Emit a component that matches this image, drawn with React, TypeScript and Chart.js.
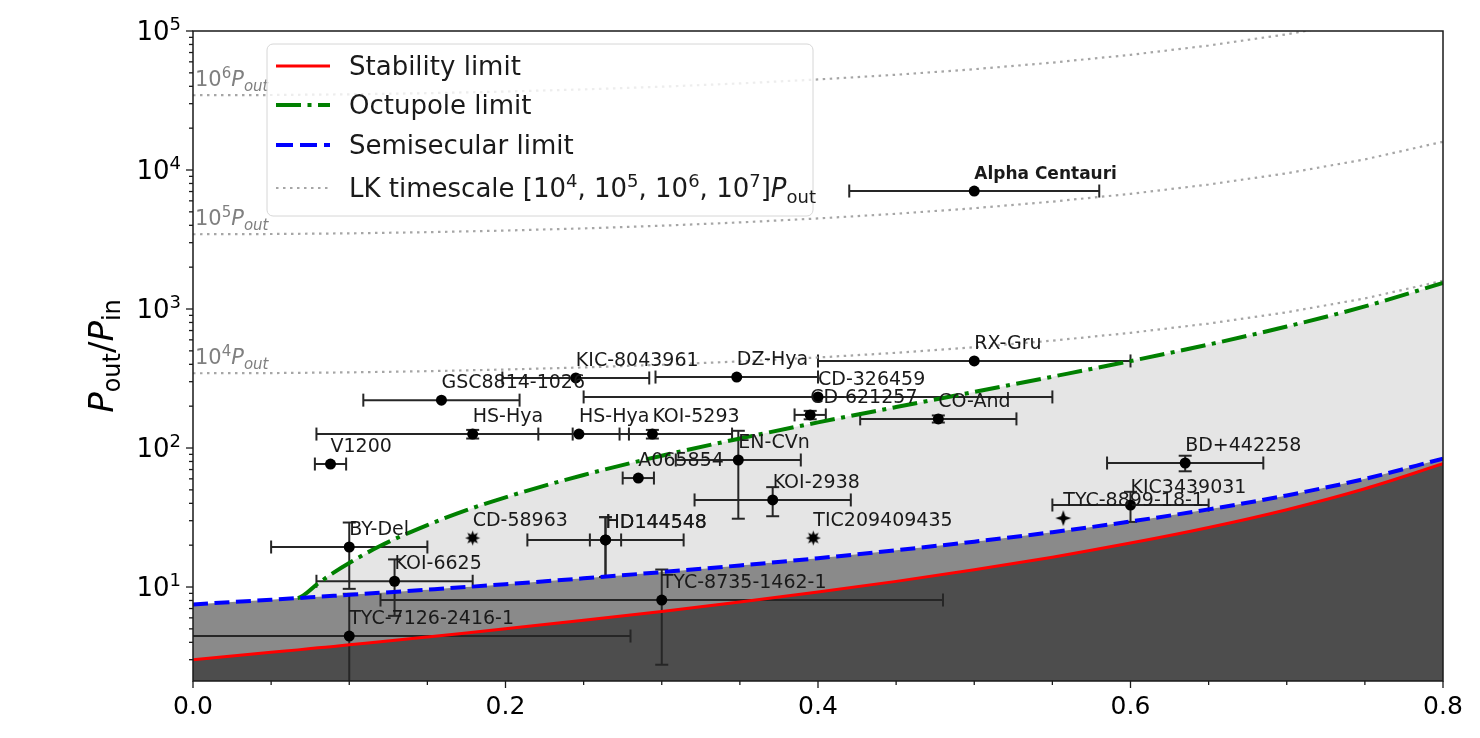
import React, { useEffect, useRef } from 'react';
import { Chart, registerables } from 'chart.js';

Chart.register(...registerables);

const FONT = '"DejaVu Sans", "Liberation Sans", sans-serif';

// ---- theoretical limits ----
const curveX = [0, 0.05, 0.067, 0.08, 0.09, 0.1, 0.12, 0.15, 0.175, 0.2, 0.25, 0.3, 0.35, 0.4, 0.45, 0.5, 0.55, 0.6, 0.65, 0.7, 0.75, 0.8];
const stabilityLimit = [3.0, 3.39, 3.53, 3.65, 3.74, 3.84, 4.04, 4.37, 4.67, 5.0, 5.76, 6.67, 7.8, 9.2, 10.98, 13.3, 16.4, 20.7, 26.8, 36, 50.9, 77];
const semisecularLimit = [7.5, 8.1, 8.32, 8.5, 8.64, 8.78, 9.09, 9.57, 10.0, 10.48, 11.55, 12.8, 14.3, 16.1, 18.4, 21.2, 24.8, 29.6, 36.2, 45.6, 60, 83.9];
const octupoleLimit = [7.5, 8.1, 8.32, 10.6, 12.7, 14.9, 19.8, 27.9, 35.7, 44.2, 64, 88, 117, 153, 197, 253, 326, 422, 555, 748, 1044, 1540];

// ---- LK timescale curves ----
const lkX = [0, 0.05, 0.1, 0.15, 0.2, 0.25, 0.3, 0.35, 0.4, 0.45, 0.5, 0.55, 0.6, 0.65, 0.7, 0.75, 0.8];
const lk1e4 = [345, 346, 350, 357, 367, 380, 397, 420, 448, 484, 531, 592, 674, 786, 947, 1192, 1597];
const lk1e5 = [3450, 3463, 3502, 3570, 3668, 3801, 3974, 4197, 4482, 4844, 5312, 5923, 6738, 7862, 9472, 11921, 15972];
const lk1e6 = [34500, 34630, 35024, 35697, 36680, 38009, 39744, 41969, 44816, 48438, 53116, 59226, 67379, 78615, 94723, 119211, 159722];
const lkLabelY = [400, 4000, 40000];
const lkLabelExp = ['4', '5', '6'];

// ---- observed systems ----
const sysNames = ['Alpha Centauri', 'RX-Gru', 'KIC-8043961', 'DZ-Hya', 'GSC8814-1026', 'CD-326459', 'CD-621257', 'CO-And', 'HS-Hya', 'HS-Hya', 'KOI-5293', 'V1200', 'A065854', 'EN-CVn', 'KOI-2938', 'TIC209409435', 'CD-58963', 'HD144548', 'HD144548', 'BY-Del', 'TYC-7126-2416-1', 'KOI-6625', 'TYC-8735-1462-1', 'BD+442258', 'KIC3439031', 'TYC-8899-18-1'];
const sysX = [0.5, 0.5, 0.245, 0.348, 0.159, 0.4, 0.395, 0.477, 0.179, 0.247, 0.294, 0.088, 0.285, 0.349, 0.371, 0.397, 0.179, 0.264, 0.264, 0.1, 0.1, 0.129, 0.3, 0.635, 0.6, 0.557];
const sysY = [7060, 423, 319, 324, 221, 233, 173, 162, 126, 126, 126, 76.7, 60.8, 82, 42.3, 22.5, 22.5, 21.8, 21.8, 19.4, 4.44, 11.0, 8.06, 78, 38.9, 31.3];
const sysXErr = [0.08, 0.1, 0.047, 0.052, 0.05, 0.15, 0.01, 0.05, 0.1, 0.026, 0.051, 0.01, 0.01, 0.04, 0.05, 0, 0, 0.05, 0.01, 0.05, 0.18, 0.05, 0.18, 0.05, 0.05, 0];
const sysYErr = [0, 0, 0, 0, 0, 0, 12, 9.5, 9, 0, 9, 0, 0, 51, 10, 0, 0, 10, 10, 9.7, 4.5, 4.8, 5.3, 10, 9.5, 0];
const sysMarker = ['o', 'o', 'o', 'o', 'o', 'o', 'o', 'o', 'o', 'o', 'o', 'o', 'o', 'o', 'o', 's8', 's8', 'o', 'o', 'o', 'o', 'o', 'o', 'o', 'o', 's4'];
const sysBold = [true, false, false, false, false, false, false, false, false, false, false, false, false, false, false, false, false, false, false, false, false, false, false, false, false, false];

// ---- axes ----
const xTicks = [0, 0.2, 0.4, 0.6, 0.8];
const xMinorTicks = [0.05, 0.1, 0.15, 0.25, 0.3, 0.35, 0.45, 0.5, 0.55, 0.65, 0.7, 0.75];
const yTicks = [10, 100, 1000, 10000, 100000];
const yTickExp = ['1', '2', '3', '4', '5'];
const yMinorTicks = [3, 4, 5, 6, 7, 8, 9, 20, 30, 40, 50, 60, 70, 80, 90, 200, 300, 400, 500, 600, 700, 800, 900, 2000, 3000, 4000, 5000, 6000, 7000, 8000, 9000, 20000, 30000, 40000, 50000, 60000, 70000, 80000, 90000];

type Run = { t: string; it?: boolean; sub?: boolean; sup?: boolean; bold?: boolean };

function runFont(r: Run, size: number) {
  const s = r.sub || r.sup ? Math.round(size * 0.7) : size;
  return `${r.it ? 'italic ' : ''}${r.bold ? 'bold ' : ''}${s}px ${FONT}`;
}

function drawRuns(ctx: CanvasRenderingContext2D, runs: Run[], x: number, y: number, size: number, color: string, align: 'left' | 'center' | 'right') {
  let total = 0;
  const ws = runs.map((r) => {
    ctx.font = runFont(r, size);
    const w = ctx.measureText(r.t).width;
    total += w;
    return w;
  });
  let cx = align === 'center' ? x - total / 2 : align === 'right' ? x - total : x;
  ctx.fillStyle = color;
  ctx.textAlign = 'left';
  ctx.textBaseline = 'alphabetic';
  runs.forEach((r, i) => {
    ctx.font = runFont(r, size);
    const dy = r.sub ? size * 0.22 : r.sup ? -size * 0.4 : 0;
    ctx.fillText(r.t, cx, y + dy);
    cx += ws[i];
  });
}

function makeStar(points: number, outer: number, inner: number) {
  const c = document.createElement('canvas');
  const s = Math.ceil(outer * 2 + 2);
  c.width = s;
  c.height = s;
  const g = c.getContext('2d')!;
  g.translate(s / 2, s / 2);
  g.beginPath();
  for (let k = 0; k < points * 2; k++) {
    const r = k % 2 === 0 ? outer : inner;
    const a = -Math.PI / 2 + (k * Math.PI) / points;
    if (k === 0) g.moveTo(r * Math.cos(a), r * Math.sin(a));
    else g.lineTo(r * Math.cos(a), r * Math.sin(a));
  }
  g.closePath();
  g.fillStyle = '#000';
  g.fill();
  return c;
}

const errorBarPlugin = {
  id: 'errorBars',
  beforeDatasetsDraw(chart: any) {
    const { ctx, chartArea: a, scales } = chart;
    const xs = scales.x;
    const ys = scales.y;
    ctx.save();
    ctx.beginPath();
    ctx.rect(a.left, a.top, a.right - a.left, a.bottom - a.top);
    ctx.clip();
    ctx.strokeStyle = '#262626';
    ctx.lineWidth = 2;
    const cap = 6.5;
    const seg = (x1: number, y1: number, x2: number, y2: number) => {
      ctx.beginPath();
      ctx.moveTo(x1, y1);
      ctx.lineTo(x2, y2);
      ctx.stroke();
    };
    for (let i = 0; i < sysX.length; i++) {
      const px = xs.getPixelForValue(sysX[i]);
      const py = ys.getPixelForValue(sysY[i]);
      if (sysXErr[i] > 0) {
        const l = xs.getPixelForValue(sysX[i] - sysXErr[i]);
        const r = xs.getPixelForValue(sysX[i] + sysXErr[i]);
        seg(l, py, r, py);
        seg(l, py - cap, l, py + cap);
        seg(r, py - cap, r, py + cap);
      }
      if (sysYErr[i] > 0) {
        const t = ys.getPixelForValue(sysY[i] + sysYErr[i]);
        const lo = sysY[i] - sysYErr[i];
        const b = lo > 0 ? ys.getPixelForValue(lo) : a.bottom + 40;
        seg(px, t, px, b);
        seg(px - cap, t, px + cap, t);
        if (lo > 0) seg(px - cap, b, px + cap, b);
      }
    }
    ctx.restore();
  },
};

const decorPlugin = {
  id: 'decor',
  afterDatasetsDraw(chart: any) {
    const { ctx, chartArea: a, scales } = chart;
    const xs = scales.x;
    const ys = scales.y;
    ctx.save();

    // frame
    ctx.strokeStyle = '#1a1a1a';
    ctx.lineWidth = 1.5;
    ctx.strokeRect(a.left, a.top, a.right - a.left, a.bottom - a.top);

    // ticks
    ctx.lineWidth = 1.3;
    const tick = (x1: number, y1: number, x2: number, y2: number) => {
      ctx.beginPath();
      ctx.moveTo(x1, y1);
      ctx.lineTo(x2, y2);
      ctx.stroke();
    };
    xTicks.forEach((v) => { const p = xs.getPixelForValue(v); tick(p, a.bottom, p, a.bottom + 7); });
    xMinorTicks.forEach((v) => { const p = xs.getPixelForValue(v); tick(p, a.bottom, p, a.bottom + 4); });
    yTicks.forEach((v) => { const p = ys.getPixelForValue(v); tick(a.left, p, a.left - 7, p); });
    yMinorTicks.forEach((v) => { const p = ys.getPixelForValue(v); tick(a.left, p, a.left - 4, p); });

    // y tick labels (10 with raised exponent)
    yTicks.forEach((v, i) => {
      drawRuns(ctx, [{ t: '10' }, { t: yTickExp[i], sup: true }], a.left - 12, ys.getPixelForValue(v) + 9, 26, '#000', 'right');
    });

    // LK annotations
    lkLabelY.forEach((v, i) => {
      drawRuns(ctx, [{ t: '10' }, { t: lkLabelExp[i], sup: true }, { t: 'P', it: true }, { t: 'out', it: true, sub: true }], a.left + 2, ys.getPixelForValue(v), 21, '#808080', 'left');
    });

    // system labels
    ctx.save();
    ctx.beginPath();
    ctx.rect(a.left, a.top, a.right - a.left, a.bottom - a.top);
    ctx.clip();
    ctx.fillStyle = '#1a1a1a';
    ctx.textAlign = 'left';
    ctx.textBaseline = 'alphabetic';
    sysNames.forEach((n, i) => {
      ctx.font = `${sysBold[i] ? 'bold 17px' : '19px'} ${FONT}`;
      ctx.fillText(n, xs.getPixelForValue(sysX[i]), ys.getPixelForValue(sysY[i]) - 12);
    });
    ctx.restore();

    // legend
    const bx = 267, by = 44, bw = 546, bh = 172, rr = 6;
    ctx.beginPath();
    ctx.moveTo(bx + rr, by);
    ctx.arcTo(bx + bw, by, bx + bw, by + bh, rr);
    ctx.arcTo(bx + bw, by + bh, bx, by + bh, rr);
    ctx.arcTo(bx, by + bh, bx, by, rr);
    ctx.arcTo(bx, by, bx + bw, by, rr);
    ctx.closePath();
    ctx.fillStyle = 'rgba(255,255,255,0.8)';
    ctx.fill();
    ctx.strokeStyle = '#d6d6d6';
    ctx.lineWidth = 1;
    ctx.stroke();

    const entries = [
      { y: 66, color: '#ff0000', w: 3, dash: [] as number[], runs: [{ t: 'Stability limit' }] as Run[] },
      { y: 105, color: '#008000', w: 4, dash: [25, 6.5, 4, 6.5], runs: [{ t: 'Octupole limit' }] as Run[] },
      { y: 145, color: '#0000ff', w: 4, dash: [17, 7], runs: [{ t: 'Semisecular limit' }] as Run[] },
      {
        y: 188, color: '#a6a6a6', w: 2.2, dash: [2.5, 4.5],
        runs: [
          { t: 'LK timescale [10' }, { t: '4', sup: true }, { t: ', 10' }, { t: '5', sup: true },
          { t: ', 10' }, { t: '6', sup: true }, { t: ', 10' }, { t: '7', sup: true }, { t: ']' },
          { t: 'P', it: true }, { t: 'out', sub: true },
        ] as Run[],
      },
    ];
    entries.forEach((e) => {
      ctx.strokeStyle = e.color;
      ctx.lineWidth = e.w;
      ctx.setLineDash(e.dash);
      ctx.beginPath();
      ctx.moveTo(276, e.y);
      ctx.lineTo(330, e.y);
      ctx.stroke();
      ctx.setLineDash([]);
      drawRuns(ctx, e.runs, 349, e.y + 9, 26, '#1a1a1a', 'left');
    });

    // y-axis title
    ctx.save();
    ctx.translate(113, (a.top + a.bottom) / 2);
    ctx.rotate(-Math.PI / 2);
    drawRuns(ctx, [{ t: 'P', it: true }, { t: 'out', sub: true }, { t: '/' }, { t: 'P', it: true }, { t: 'in', sub: true }], 0, 0, 34, '#000', 'center');
    ctx.restore();

    ctx.restore();
  },
};

export default function App() {
  const ref = useRef<HTMLCanvasElement>(null);
  useEffect(() => {
    const star8 = makeStar(8, 7.5, 3.8);
    const star4 = makeStar(4, 8, 3);
    const styles = sysMarker.map((m) => (m === 's8' ? star8 : m === 's4' ? star4 : 'circle'));
    const green = '#008000';
    const lkStyle = { borderColor: '#a6a6a6', borderWidth: 2.2, borderDash: [2.5, 4.5], pointRadius: 0, showLine: true, fill: false };
    const chart = new Chart(ref.current!, {
      type: 'scatter',
      data: {
        datasets: [
          {
            label: 'systems',
            data: sysX.map((x, i) => ({ x, y: sysY[i] })),
            pointStyle: styles as any,
            pointRadius: 5.5,
            pointBackgroundColor: '#000',
            pointBorderColor: '#000',
            pointBorderWidth: 0,
            showLine: false,
            order: 0,
          },
          {
            label: 'Stability limit',
            data: curveX.map((x, i) => ({ x, y: stabilityLimit[i] })),
            showLine: true,
            borderColor: '#ff0000',
            borderWidth: 3,
            pointRadius: 0,
            fill: 'start',
            backgroundColor: '#4d4d4d',
            cubicInterpolationMode: 'monotone',
            order: 1,
          },
          {
            label: 'Semisecular limit',
            data: curveX.map((x, i) => ({ x, y: semisecularLimit[i] })),
            showLine: true,
            borderColor: '#0000ff',
            borderWidth: 4,
            borderDash: [15, 6.5],
            pointRadius: 0,
            fill: 1,
            backgroundColor: '#8a8a8a',
            cubicInterpolationMode: 'monotone',
            order: 2,
          },
          {
            label: 'Octupole limit',
            data: curveX.map((x, i) => ({ x, y: octupoleLimit[i] })),
            showLine: true,
            borderColor: green,
            borderWidth: 4,
            borderDash: [25, 6.5, 4, 6.5],
            pointRadius: 0,
            fill: 2,
            backgroundColor: '#e5e5e5',
            cubicInterpolationMode: 'monotone',
            segment: { borderColor: (c: any) => (c.p1DataIndex <= 2 ? 'rgba(0,0,0,0)' : green) },
            order: 3,
          },
          { label: 'LK 1e4', data: lkX.map((x, i) => ({ x, y: lk1e4[i] })), ...lkStyle, order: 4 },
          { label: 'LK 1e5', data: lkX.map((x, i) => ({ x, y: lk1e5[i] })), ...lkStyle, order: 5 },
          { label: 'LK 1e6', data: lkX.map((x, i) => ({ x, y: lk1e6[i] })), ...lkStyle, order: 6 },
        ] as any,
      },
      options: {
        animation: false,
        responsive: false,
        devicePixelRatio: 1,
        events: [],
        layout: { padding: { left: 0, right: 37, top: 31, bottom: 0 } },
        plugins: {
          legend: { display: false },
          tooltip: { enabled: false },
          filler: { drawTime: 'beforeDatasetsDraw', propagate: false },
        } as any,
        scales: {
          x: {
            type: 'linear',
            min: 0,
            max: 0.8,
            afterBuildTicks: (s: any) => { s.ticks = xTicks.map((v) => ({ value: v })); },
            afterFit: (s: any) => { s.height = 57; },
            ticks: {
              callback: (v: any) => Number(v).toFixed(1),
              font: { family: FONT, size: 25 },
              color: '#000',
              padding: 4,
              maxRotation: 0,
              autoSkip: false,
            },
            grid: { display: true, drawOnChartArea: false, drawTicks: true, tickLength: 7, color: 'rgba(0,0,0,0)' },
            border: { display: false },
          },
          y: {
            type: 'logarithmic',
            min: 2.108,
            max: 100000,
            afterBuildTicks: (s: any) => { s.ticks = yTicks.map((v) => ({ value: v })); },
            afterFit: (s: any) => { s.width = 193; },
            ticks: {
              callback: () => '',
              font: { family: FONT, size: 26 },
              padding: 6,
              autoSkip: false,
            },
            grid: { display: true, drawOnChartArea: false, drawTicks: true, tickLength: 7, color: 'rgba(0,0,0,0)' },
            border: { display: false },
          },
        } as any,
      },
      plugins: [errorBarPlugin, decorPlugin],
    } as any);
    return () => chart.destroy();
  }, []);
  return (
    <div style={{ position: 'absolute', left: 0, top: 0, width: 1480, height: 738, background: '#fff' }}>
      <canvas ref={ref} width={1480} height={738} style={{ width: 1480, height: 738, display: 'block' }} />
    </div>
  );
}
